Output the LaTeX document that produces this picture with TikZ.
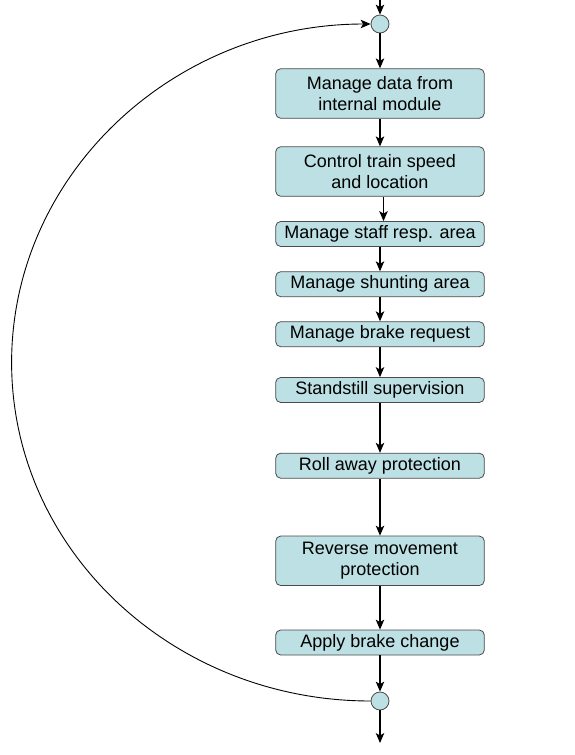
\documentclass[tikz,border=0pt]{standalone}
\usepackage{fontspec}
\setmainfont{Liberation Sans}
\usetikzlibrary{arrows.meta}
\definecolor{boxfill}{HTML}{BCE0E3}
\definecolor{boxline}{HTML}{4A4A4A}
\begin{document}
\begin{tikzpicture}[x=1pt,y=-1pt,
  stepbox/.style={draw=boxline,fill=boxfill,rounded corners=5pt,line width=0.8pt,
    minimum width=208.6pt,inner sep=0pt,align=center,
    font=\fontsize{18}{20.5}\selectfont},
  onerow/.style={minimum height=25pt},
  tworow/.style={minimum height=49.5pt},
  junction/.style={circle,draw=boxline,fill=boxfill,line width=0.8pt,
    minimum size=18pt,inner sep=0pt},
  flow/.style={-{Stealth[length=10pt,width=8.5pt,inset=2.5pt]},line width=1.1pt}]
\useasboundingbox (0,0) rectangle (574,755);
\node[junction] (j1) at (380,24) {};
\node[stepbox,tworow] (b1) at (380,93.5) {Manage data from\\internal module};
\node[stepbox,tworow] (b2) at (380,171.5) {Control train speed\\and location};
\node[stepbox,onerow] (b3) at (380,234) {Manage staff resp. area};
\node[stepbox,onerow] (b4) at (380,284.2) {Manage shunting area};
\node[stepbox,onerow] (b5) at (380,334.2) {Manage brake request};
\node[stepbox,onerow] (b6) at (380,390) {Standstill supervision};
\node[stepbox,onerow] (b7) at (380,465.7) {Roll away protection};
\node[stepbox,tworow] (b8) at (380,560.8) {Reverse movement\\protection};
\node[stepbox,onerow] (b9) at (380,642.5) {Apply brake change};
\node[junction] (j2) at (380,701) {};
\coordinate (in) at (380,0);
\coordinate (out) at (380,743);
\draw[flow] (in) -- (j1);
\draw[flow] (j1) -- (b1);
\draw[flow] (b1) -- (b2);
\draw[flow] ([xshift=3.5pt]b2.south) -- ([xshift=3.5pt]b3.north);
\draw[flow] (b3) -- (b4);
\draw[flow] (b4) -- (b5);
\draw[flow] (b5) -- (b6);
\draw[flow] (b6) -- (b7);
\draw[flow] (b7) -- (b8);
\draw[flow] (b8) -- (b9);
\draw[flow] (b9) -- (j2);
\draw[flow] (j2) -- (out);
\draw[flow,line width=0.9pt] (j2.west) arc[start angle=90,end angle=270,x radius=359,y radius=338.5];
\end{tikzpicture}
\end{document}
